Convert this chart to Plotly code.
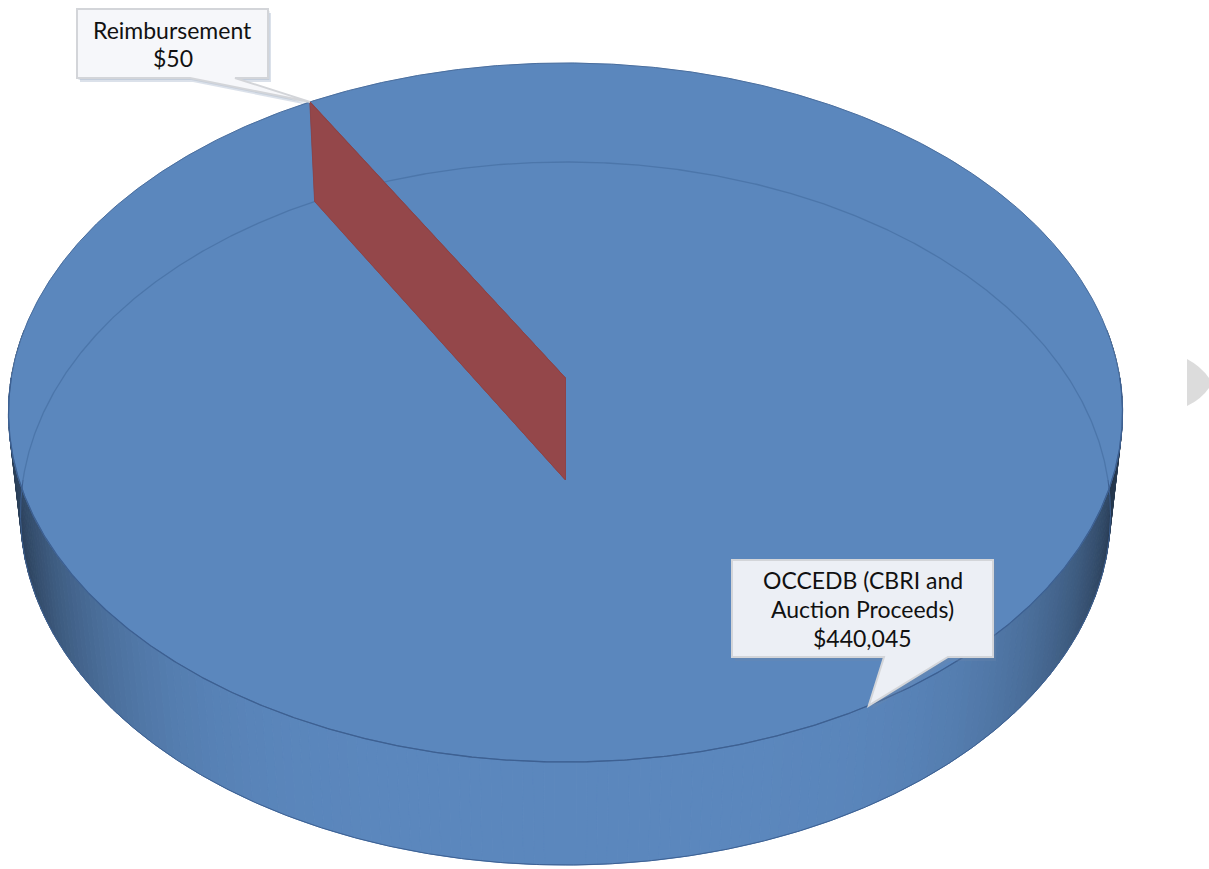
import numpy as np
import plotly.graph_objects as go

# ---------------- data ----------------
categories = ["OCCEDB (CBRI and Auction Proceeds)", "Reimbursement"]
amounts = [440045, 50]
label_lines = [["OCCEDB (CBRI and", "Auction Proceeds)"], ["Reimbursement"]]

# ---------------- style / layout ----------------
W, H = 1209, 869
slice_rgb = [(91, 135, 189), (148, 71, 74)]
FIRST_SLICE_ANGLE = 330          # degrees, clockwise from 12 o'clock (Excel style)
CX = 565.5
# face: (projected centre y, x-radius, y-radius, perspective factor)
FACES = {"top": (378.0, 554.3, 346.1, 0.0987),
         "bottom": (480.0, 542.5, 348.3, 0.0953)}
FONT = "Lato"
# callout boxes (x0, y0, x1, y1, pointer base x0, pointer base x1, fill)
BOXES = [(732, 560, 993, 657, 884, 948, "#ECEFF5"),
         (77, 9, 268, 78, 190, 235, "#F6F7FA")]
LINE_GAP = [29, 28]
FONT_SIZE = 23


def project(face, theta, r=1.0):
    cy, A, B, k = FACES[face]
    t = np.radians(theta)
    d = 1 + k * r * np.sin(t)
    return CX + A * r * np.cos(t) / d, cy - B * r * np.sin(t) / d


def rgb(c, f=1.0):
    return "rgb(%d,%d,%d)" % tuple(max(0, min(255, round(v * f))) for v in c)


total = float(sum(amounts))
start = 90 - FIRST_SLICE_ANGLE
bounds = []
cum = 0.0
for v in amounts:
    hi = start - cum / total * 360
    cum += v
    lo = start - cum / total * 360
    bounds.append((lo, hi))


def slice_at(theta):
    for i, (lo, hi) in enumerate(bounds):
        if (theta - lo) % 360 <= (hi - lo):
            return i
    return 0


fig = go.Figure()

# ---- side wall (front), shaded strips ----
step = 1.0
for th0 in np.arange(172, 368, step):
    th1 = th0 + step
    tm = th0 + step / 2
    i = slice_at(tm)
    f = 1 - 0.6 * abs(np.cos(np.radians(tm))) ** 5
    tx0, ty0 = project("top", th0)
    tx1, ty1 = project("top", th1)
    bx1, by1 = project("bottom", th1)
    bx0, by0 = project("bottom", th0)
    col = rgb(slice_rgb[i], f)
    fig.add_trace(go.Scatter(
        x=[tx0, tx1, bx1, bx0, tx0], y=[ty0, ty1, by1, by0, ty0],
        mode="lines", fill="toself", fillcolor=col,
        line=dict(color=col, width=1), hoverinfo="skip", showlegend=False))

# ---- top face sectors ----
for i, (lo, hi) in enumerate(bounds):
    n = max(2, int((hi - lo) * 3))
    ang = np.linspace(lo, hi, n)
    xs, ys = project("top", ang)
    cx0, cy0 = project("top", 0.0, 0.0)
    fig.add_trace(go.Scatter(
        x=np.concatenate([[cx0], xs, [cx0]]), y=np.concatenate([[cy0], ys, [cy0]]),
        mode="lines", fill="toself", fillcolor=rgb(slice_rgb[i]),
        line=dict(color=rgb(slice_rgb[i]), width=0.5),
        name=categories[i], hoverinfo="name", showlegend=False))

# ---- rim lines ----
full = np.linspace(0, 360, 1441)
back = np.linspace(0, 180, 721)
front = np.linspace(180, 360, 721)
for face, ang, col, wd in [("top", full, "#4A6E9E", 1.0),
                           ("bottom", back, "#4C76AA", 1.3),
                           ("top", front, "#3D6092", 1.3),
                           ("bottom", front, "#3D6092", 1.0)]:
    xs, ys = project(face, ang)
    fig.add_trace(go.Scatter(x=xs, y=ys, mode="lines",
                             line=dict(color=col, width=wd),
                             hoverinfo="skip", showlegend=False))

# ---- radial walls (cut faces) ----
for i, (lo, hi) in enumerate(bounds):
    for a in (lo, hi):
        tcx, tcy = project("top", a, 0.0)
        trx, try_ = project("top", a)
        brx, bry = project("bottom", a)
        bcx, bcy = project("bottom", a, 0.0)
        col = rgb(slice_rgb[i])
        fig.add_trace(go.Scatter(
            x=[tcx, trx, brx, bcx, tcx], y=[tcy, try_, bry, bcy, tcy],
            mode="lines", fill="toself", fillcolor=col,
            line=dict(color=rgb(slice_rgb[i], 0.95), width=0.8),
            name=categories[i], hoverinfo="name", showlegend=False))

# ---- callouts ----
shapes = []
annotations = []
for i, (lo, hi) in enumerate(bounds):
    mid = (lo + hi) / 2
    tipx, tipy = project("top", mid)
    x0, y0, x1, y1, p0, p1, fill = BOXES[i]

    def path(dx=0.0, dy=0.0):
        pts = [(x0, y0), (x1, y0), (x1, y1), (p1, y1), (tipx, tipy), (p0, y1), (x0, y1)]
        return "M " + " L ".join("%.1f,%.1f" % (px + dx, py + dy) for px, py in pts) + " Z"

    shapes.append(dict(type="path", path=path(3, 4), xref="x", yref="y",
                       fillcolor="rgba(110,135,170,0.25)", line=dict(width=0), layer="above"))
    shapes.append(dict(type="path", path=path(1.5, 2), xref="x", yref="y",
                       fillcolor="rgba(110,135,170,0.22)", line=dict(width=0), layer="above"))
    shapes.append(dict(type="path", path=path(), xref="x", yref="y",
                       fillcolor=fill, line=dict(color="#D3D5D9", width=2), layer="above"))
    lines = label_lines[i] + ["${:,}".format(amounts[i])]
    gap = LINE_GAP[i]
    ymid = (y0 + y1) / 2
    for j, t in enumerate(lines):
        yy = ymid + (j - (len(lines) - 1) / 2) * gap
        annotations.append(dict(x=(x0 + x1) / 2, y=yy, xref="x", yref="y", text=t,
                                showarrow=False, xanchor="center", yanchor="middle",
                                font=dict(family=FONT, size=FONT_SIZE, color="#111111")))

# slide navigation arrow (partially off-page)
shapes.append(dict(type="path", path="M 1187,359 Q 1204,368 1212,383 Q 1204,398 1187,406 Z",
                   xref="x", yref="y", fillcolor="#DCDCDC", line=dict(width=0), layer="above"))

fig.update_layout(
    width=W, height=H, margin=dict(l=0, r=0, t=0, b=0),
    paper_bgcolor="white", plot_bgcolor="white", showlegend=False,
    xaxis=dict(range=[0, W], visible=False, fixedrange=True),
    yaxis=dict(range=[H, 0], visible=False, fixedrange=True),
    shapes=shapes, annotations=annotations,
)

fig.write_html("out.html")
